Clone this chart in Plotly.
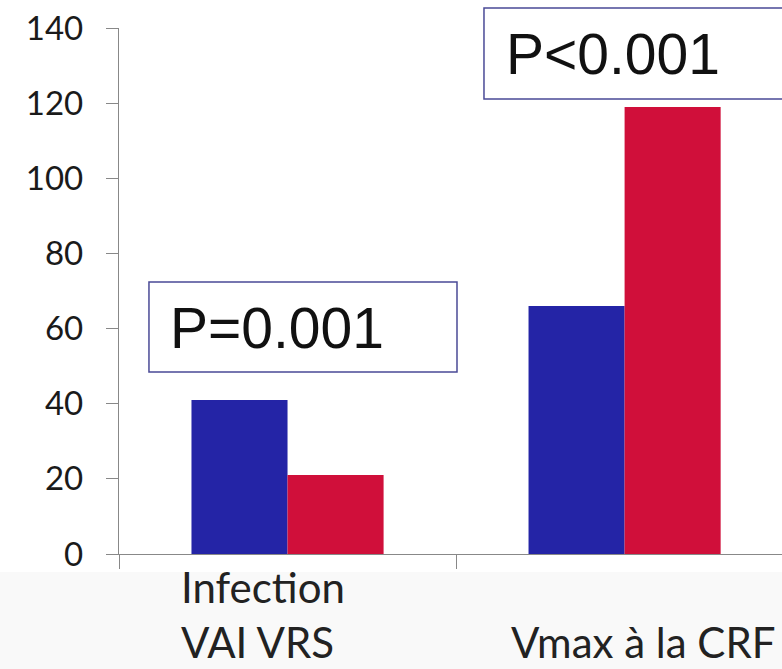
import plotly.graph_objects as go

# Category positions and grouped values
categories = [0, 1]
blue_values = [41, 66]
red_values = [21, 119]
y_ticks = [0, 20, 40, 60, 80, 100, 120, 140]

BLUE = "#2424a6"
RED = "#d00f3a"
BOX = "#4a4a96"

fig = go.Figure()
fig.add_trace(go.Bar(x=categories, y=blue_values, marker=dict(color=BLUE, line=dict(width=0)),
                     showlegend=False, hoverinfo="y"))
fig.add_trace(go.Bar(x=categories, y=red_values, marker=dict(color=RED, line=dict(width=0)),
                     showlegend=False, hoverinfo="y"))

# light band under the axis area
fig.add_shape(type="rect", xref="paper", yref="paper", x0=-0.2, x1=1.1, y0=-0.034, y1=-0.3,
              fillcolor="#f9f9f9", line=dict(width=0), layer="below")

# framed p-value labels
fig.add_shape(type="rect", xref="paper", yref="paper", x0=0.0452, x1=0.5098, y0=0.346, y1=0.517,
              line=dict(color=BOX, width=1.5), fillcolor="white")
fig.add_shape(type="rect", xref="paper", yref="paper", x0=0.5505, x1=1.05, y0=0.865, y1=1.038,
              line=dict(color=BOX, width=1.5), fillcolor="white")

pfont = dict(family="Liberation Sans, Arial", size=57, color="#111111")
fig.add_annotation(x=-0.031, y=60.2, text="P=0.001", showarrow=False, font=pfont,
                   xanchor="center", yanchor="middle")
fig.add_annotation(x=0.966, y=133, text="P<0.001", showarrow=False, font=pfont,
                   xanchor="center", yanchor="middle")

# category labels below the axis
cfont = dict(family="Lato, Comic Sans MS", size=42, color="#222222")
fig.add_annotation(x=-0.322, y=-0.2186, yref="paper", text="Infection<br>VAI VRS",
                   showarrow=False, font=cfont, align="left",
                   xanchor="left", yanchor="bottom")
fig.add_annotation(x=0.657, y=-0.2186, yref="paper", text="Vmax à la CRF", showarrow=False,
                   font=cfont, xanchor="left", yanchor="bottom")

fig.update_layout(
    width=782, height=669,
    margin=dict(l=119, r=0, t=28, b=115),
    paper_bgcolor="white", plot_bgcolor="white",
    barmode="group", bargap=0.43, bargroupgap=0,
    xaxis=dict(range=[-0.5, 1.467], tickvals=[-0.5, 0.5, 1.5], showticklabels=False,
               ticks="outside", ticklen=14, tickcolor="#888888", tickwidth=1.3,
               showline=True, linecolor="#888888", linewidth=1.3,
               showgrid=False, zeroline=False),
    yaxis=dict(range=[0, 140], tickvals=y_ticks, ticks="outside", ticklen=12,
               tickcolor="#888888", tickwidth=1.3, showline=True, linecolor="#888888",
               linewidth=1.3, showgrid=False, zeroline=False,
               tickfont=dict(family="Lato, Calibri", size=33, color="#1a1a1a"),
               ticklabelstandoff=16),
)

fig.write_html("out.html")
